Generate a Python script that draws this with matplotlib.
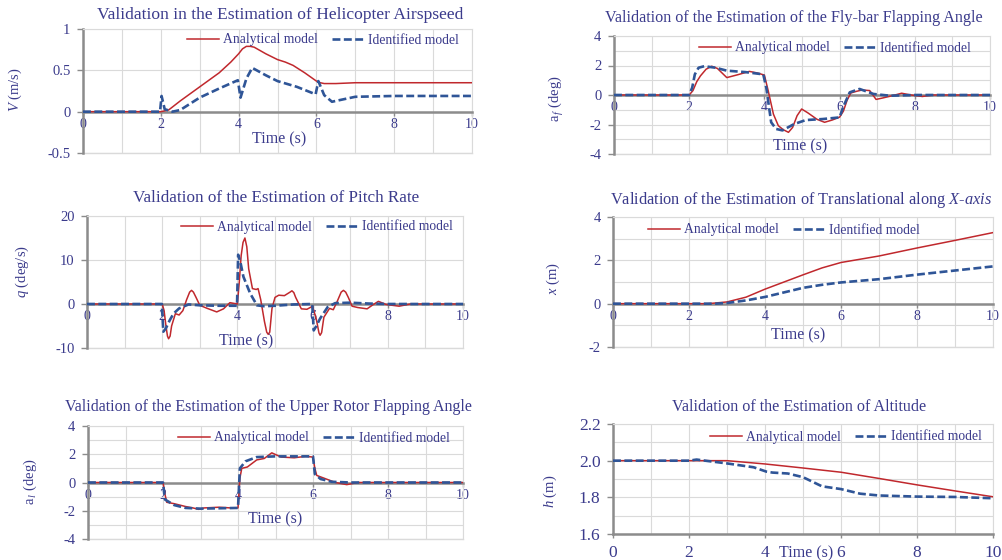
"""Six-panel validation figure: analytical vs identified helicopter model."""

import matplotlib
matplotlib.use('Agg')
import matplotlib.pyplot as plt
from matplotlib.ticker import MultipleLocator

W, H = 1002, 560

TEXT_C = '#3B3B8C'
RED = '#C0282D'
BLUE = '#2F5597'
AXIS_C = '#8C8C8C'
GRID_C = '#DADADA'

plt.rcParams['font.family'] = ['Liberation Serif', 'DejaVu Serif']
plt.rcParams['mathtext.fontset'] = 'custom'
plt.rcParams['mathtext.rm'] = 'Liberation Serif'
plt.rcParams['mathtext.it'] = 'Liberation Serif:italic'

# ---- data --------------------------------------------------------------
V_T_ANA = [0, 2.0, 2.2, 2.5, 3.0, 3.5, 3.8, 4.0, 4.1, 4.2, 4.3, 4.4, 4.55,
           4.7, 5.0, 5.2, 5.4, 5.7, 5.85, 6.0, 6.1, 6.2, 6.5, 7.0, 8.0, 9.0,
           10.0]
V_ANA = [0, 0, 0.02, 0.13, 0.30, 0.47, 0.60, 0.70, 0.76, 0.79, 0.79, 0.78,
         0.74, 0.70, 0.63, 0.60, 0.56, 0.47, 0.42, 0.37, 0.35, 0.34, 0.34,
         0.35, 0.35, 0.35, 0.35]
V_T_IDE = [0, 1.98, 2.02, 2.1, 2.3, 2.5, 3.0, 3.5, 3.98, 4.05, 4.2, 4.35, 4.7,
           5.0, 5.5, 5.98, 6.05, 6.2, 6.4, 6.7, 7.0, 8.0, 10.0]
V_IDE = [0, 0, 0.19, 0.03, 0.0, 0.02, 0.17, 0.28, 0.38, 0.17, 0.40, 0.53,
         0.44, 0.37, 0.30, 0.21, 0.37, 0.20, 0.12, 0.15, 0.18, 0.19, 0.19]

AF_T_ANA = [0, 2.0, 2.1, 2.2, 2.3, 2.45, 2.6, 2.75, 3.0, 3.3, 3.6, 3.8, 4.0,
            4.1, 4.24, 4.37, 4.5, 4.64, 4.75, 4.87, 4.99, 5.15, 5.4, 5.6, 5.8,
            6.0, 6.1, 6.2, 6.3, 6.45, 6.6, 6.8, 6.97, 7.15, 7.4, 7.65, 7.9,
            8.2, 8.5, 10.0]
AF_ANA = [0, 0, 0.3, 0.9, 1.3, 1.75, 1.95, 1.8, 1.18, 1.38, 1.6, 1.5, 1.35,
          0.3, -1.3, -2.08, -2.35, -2.53, -2.2, -1.4, -0.95, -1.2, -1.65,
          -1.85, -1.7, -1.5, -1.1, -0.35, 0.14, 0.25, 0.34, 0.3, -0.3, -0.2,
          -0.05, 0.12, 0.0, -0.1, 0, 0]
AF_T_IDE = [0, 2.0, 2.08, 2.15, 2.25, 2.4, 2.7, 3.0, 3.5, 3.97, 4.05, 4.18,
            4.31, 4.48, 4.79, 5.1, 5.55, 6.0, 6.09, 6.27, 6.53, 6.9, 7.34,
            8.0, 10.0]
AF_IDE = [0, 0, 0.5, 1.4, 1.85, 1.95, 1.85, 1.65, 1.55, 1.4, 0.5, -1.85,
          -2.3, -2.4, -1.97, -1.7, -1.63, -1.52, -0.84, 0.18, 0.41, 0.07,
          -0.05, 0, 0]

Q_T_ANA = [0, 2.0, 2.05, 2.1, 2.14, 2.17, 2.21, 2.25, 2.35, 2.45, 2.55, 2.65,
           2.73, 2.78, 2.83, 2.9, 3.0, 3.2, 3.45, 3.63, 3.8, 4.0, 4.05, 4.1,
           4.15, 4.2, 4.25, 4.3, 4.4, 4.5, 4.55, 4.62, 4.72, 4.78, 4.82, 4.86,
           4.92, 5.0, 5.1, 5.25, 5.4, 5.45, 5.5, 5.55, 5.7, 5.85, 6.0, 6.1,
           6.17, 6.2, 6.24, 6.3, 6.45, 6.55, 6.65, 6.76, 6.82, 6.88, 6.95,
           7.05, 7.2, 7.45, 7.6, 7.75, 7.95, 8.3, 8.6, 10.0]
Q_ANA = [0, 0, -1.5, -5, -7.3, -7.9, -7.3, -5, -2.2, -2.5, -1.5, 1.0, 2.7,
         3.1, 2.7, 1.5, -0.3, -1.0, -1.8, -1.1, 0.3, 0, 5, 11, 14.0, 15, 13.0,
         8, 3.5, 3.3, 3.5, 1.0, -4, -6.4, -6.9, -6.4, -1.0, 1.5, 2.0, 1.9,
         2.7, 3.0, 2.6, 1.5, -1.1, -1.2, -0.5, -3.5, -6.6, -7.1, -6.5, -3.0,
         -1.0, -1.3, 0.5, 2.7, 3.1, 2.7, 1.5, -0.5, -0.8, -1.1, -0.2, 0.6,
         -0.1, -0.5, 0, 0]
Q_T_IDE = [0, 1.99, 2.03, 2.1, 2.2, 2.3, 2.45, 2.7, 3.0, 3.5, 3.99, 4.02,
           4.08, 4.16, 4.34, 4.52, 4.7, 5.0, 5.5, 5.99, 6.03, 6.1, 6.2, 6.4,
           6.6, 7.0, 7.5, 8.0, 10.0]
Q_IDE = [0, 0, -6.3, -5.5, -3.7, -2.2, -1.0, -0.1, -0.3, -0.4, -0.4, 11.2,
         9.5, 6.2, 2.4, -0.3, -0.5, -0.4, -0.1, 0, -6.0, -5, -3.3, -0.7, 0.2,
         0.3, 0.1, 0, 0]

X_T_ANA = [0, 2.5, 3.0, 3.5, 4.0, 4.5, 5.0, 5.5, 6.0, 6.5, 7.0, 8.0, 9.0, 10.0]
X_ANA = [0, 0, 0.08, 0.3, 0.67, 1.0, 1.33, 1.65, 1.9, 2.05, 2.2, 2.57, 2.92,
         3.28]
X_T_IDE = [0, 2.7, 3.0, 3.5, 4.0, 4.5, 5.0, 5.5, 6.0, 7.0, 8.0, 9.0, 10.0]
X_IDE = [0, 0, 0.03, 0.15, 0.31, 0.52, 0.73, 0.87, 0.98, 1.13, 1.34, 1.53,
         1.72]

AL_T_ANA = [0, 2.0, 2.05, 2.1, 2.3, 2.6, 2.8, 2.95, 3.1, 3.5, 3.8, 4.0, 4.05,
            4.1, 4.25, 4.5, 4.7, 4.9, 5.15, 5.5, 5.8, 6.0, 6.05, 6.1, 6.3,
            6.6, 6.9, 7.2, 10.0]
AL_ANA = [0, 0, -0.8, -1.4, -1.5, -1.7, -1.8, -1.9, -1.8, -1.75, -1.8, -1.8,
          0.3, 1.0, 1.1, 1.6, 1.7, 2.1, 1.8, 1.75, 1.85, 1.8, 1.0, 0.5, 0.3,
          0.0, -0.15, 0, 0]
AL_T_IDE = [0, 2.0, 2.05, 2.3, 2.6, 3.0, 4.0, 4.05, 4.2, 4.5, 5.0, 6.0, 6.05,
            6.2, 6.5, 7.0, 10.0]
AL_IDE = [0, 0, -1.2, -1.6, -1.8, -1.85, -1.8, 1.0, 1.5, 1.8, 1.85, 1.85,
          0.6, 0.25, 0.05, 0, 0]

H_T_ANA = [0, 3.0, 4.0, 5.0, 6.0, 7.0, 8.0, 9.0, 10.0]
H_ANA = [2.0, 2.0, 1.982, 1.96, 1.937, 1.903, 1.868, 1.835, 1.803]
H_T_IDE = [0, 2.0, 2.2, 2.5, 3.0, 3.7, 4.04, 4.2, 4.6, 5.0, 5.5, 6.0, 6.5,
           7.0, 8.0, 9.0, 10.0]
H_IDE = [2.0, 2.0, 2.006, 1.998, 1.985, 1.964, 1.94, 1.935, 1.93, 1.91, 1.86,
         1.845, 1.82, 1.81, 1.804, 1.802, 1.795]

# panel layout in pixels: box (left, right, top, bottom), y range, y steps,
# title pos, legend centre, xlabel pos, ylabel pos
PANELS = [
    dict(t_a=V_T_ANA, y_a=V_ANA, t_i=V_T_IDE, y_i=V_IDE,
         box=(83, 472, 29, 153), ylim=(-0.5, 1), ymaj=0.5, ymin=0.5, yfmt='{:g}',
         title='Validation in the Estimation of Helicopter Airspseed', tsize=12.6,
         title_xy=(280, 15), leg_xy=(323, 40), xl_xy=(279, 139),
         ylabel='$V$ (m/s)', yl_xy=(15, 90)),
    dict(t_a=AF_T_ANA, y_a=AF_ANA, t_i=AF_T_IDE, y_i=AF_IDE,
         box=(614, 990, 36, 154), ylim=(-4, 4), ymaj=2, ymin=1, yfmt='{:g}',
         title='Validation of the Estimation of the Fly-bar Flapping Angle', tsize=11.6,
         title_xy=(794, 18), leg_xy=(835, 48), xl_xy=(800, 146),
         ylabel=r'a$_{\,f}$ (deg)', yl_xy=(557, 99)),
    dict(t_a=Q_T_ANA, y_a=Q_ANA, t_i=Q_T_IDE, y_i=Q_IDE,
         box=(87, 463, 216, 348), ylim=(-10, 20), ymaj=10, ymin=10, yfmt='{:g}',
         title='Validation of the Estimation of Pitch Rate', tsize=12.3,
         title_xy=(276, 198), leg_xy=(317, 227), xl_xy=(246, 341),
         ylabel='$q$ (deg/s)', yl_xy=(22, 272)),
    dict(t_a=X_T_ANA, y_a=X_ANA, t_i=X_T_IDE, y_i=X_IDE,
         box=(613, 993, 217, 347), ylim=(-2, 4), ymaj=2, ymin=1, yfmt='{:g}',
         title='Validation of the Estimation of Translational along $X$-$axis$', tsize=11.8,
         title_xy=(801, 200), leg_xy=(784, 230), xl_xy=(798, 335),
         ylabel='$x$ (m)', yl_xy=(553, 279)),
    dict(t_a=AL_T_ANA, y_a=AL_ANA, t_i=AL_T_IDE, y_i=AL_IDE,
         box=(88, 463, 426, 539), ylim=(-4, 4), ymaj=2, ymin=1, yfmt='{:g}',
         title='Validation of the Estimation of the Upper Rotor Flapping Angle', tsize=11.5,
         title_xy=(268, 407), leg_xy=(314, 438), xl_xy=(275, 519),
         ylabel=r'a$_{\,l}$ (deg)', yl_xy=(30, 482)),
    dict(t_a=H_T_ANA, y_a=H_ANA, t_i=H_T_IDE, y_i=H_IDE,
         box=(613, 993, 424, 534), ylim=(1.6, 2.2), ymaj=0.2, ymin=0.1, yfmt='{:.1f}',
         title='Validation of the Estimation of Altitude', tsize=11.6,
         title_xy=(799, 407), leg_xy=(846, 437), xl_xy=(806, 553),
         ylabel='$h$ (m)', yl_xy=(550, 491)),
]


def fx(px):
    return px / W


def fy(py):
    return 1 - py / H


def draw_panel(fig, p, zero_axis=True):
    left, right, top, bottom = p['box']
    ax = fig.add_axes([fx(left), fy(bottom), (right - left) / W, (bottom - top) / H])
    ax.set_xlim(0, 10)
    ax.set_ylim(*p['ylim'])

    ax.plot(p['t_a'], p['y_a'], color=RED, lw=1.1, label='Analytical model',
            zorder=3, solid_joinstyle='round')
    ax.plot(p['t_i'], p['y_i'], color=BLUE, lw=1.9, dashes=(3.0, 1.3),
            label='Identified model', zorder=4)

    ax.xaxis.set_major_locator(MultipleLocator(2))
    ax.xaxis.set_minor_locator(MultipleLocator(1))
    ax.yaxis.set_major_locator(MultipleLocator(p['ymaj']))
    ax.yaxis.set_minor_locator(MultipleLocator(p['ymin']))
    ax.yaxis.set_major_formatter(lambda v, pos: p['yfmt'].format(v))
    ax.grid(True, which='both', color=GRID_C, lw=0.8, zorder=0)
    ax.set_axisbelow(True)

    for side in ('top', 'right'):
        ax.spines[side].set_color(GRID_C)
        ax.spines[side].set_linewidth(0.8)
    ax.spines['left'].set_color(AXIS_C)
    ax.spines['left'].set_linewidth(1.8)
    ax.spines['bottom'].set_color(AXIS_C)
    ax.spines['bottom'].set_linewidth(1.8)
    if zero_axis:
        ax.spines['bottom'].set_position(('data', 0))
        ax.axhline(p['ylim'][0], color=GRID_C, lw=1.0, clip_on=False, zorder=0)
        xsize, xpad = 10, 1.5
    else:
        xsize, xpad = 12.5, 5

    ax.tick_params(axis='x', which='major', length=3, width=1, color=AXIS_C,
                   labelsize=xsize, labelcolor=TEXT_C, pad=xpad)
    ax.tick_params(axis='y', which='major', length=4, width=1, color=AXIS_C,
                   labelsize=xsize if not zero_axis else 10.5,
                   labelcolor=TEXT_C, pad=5)
    ax.tick_params(which='minor', length=0)

    ax.legend(loc='center', bbox_to_anchor=(fx(p['leg_xy'][0]), fy(p['leg_xy'][1])),
              bbox_transform=fig.transFigure, ncol=2, frameon=False,
              fontsize=9.8, labelcolor=TEXT_C, handlelength=2.3,
              handletextpad=0.35, columnspacing=1.0, borderpad=0)

    fig.text(fx(p['title_xy'][0]), fy(p['title_xy'][1]), p['title'],
             ha='center', va='center', fontsize=p['tsize'], color=TEXT_C)
    fig.text(fx(p['xl_xy'][0]), fy(p['xl_xy'][1]), 'Time (s)',
             ha='center', va='center', fontsize=11.5, color=TEXT_C)
    fig.text(fx(p['yl_xy'][0]), fy(p['yl_xy'][1]), p['ylabel'],
             ha='center', va='center', rotation=90, fontsize=10.5, color=TEXT_C)
    return ax


def main():
    fig = plt.figure(figsize=(W / 100, H / 100), dpi=100)
    fig.patch.set_facecolor('white')
    for i, p in enumerate(PANELS):
        draw_panel(fig, p, zero_axis=(i < 5))
    fig.savefig('out.png', dpi=100)
    plt.close(fig)


if __name__ == '__main__':
    main()
